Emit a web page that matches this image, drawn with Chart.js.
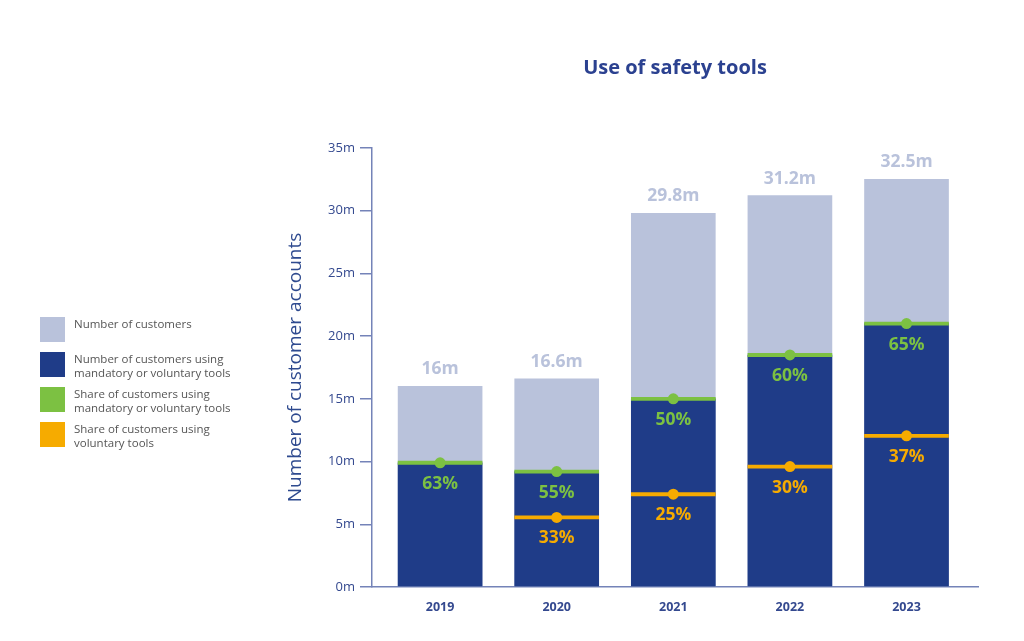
<!DOCTYPE html>
<html>
<head>
<meta charset="utf-8">
<script src="https://cdn.jsdelivr.net/npm/chart.js@4"></script>
<style>
  html, body { margin: 0; padding: 0; background: #fff; }
  #wrap { position: relative; width: 1024px; height: 641px; }
  #legend { position: absolute; left: 40px; top: 317px; font-family: 'Open Sans', sans-serif; font-size: 11.5px; color: #555; }
  .item { position: relative; height: 35px; }
  .sw { position: absolute; left: 0; top: 0; width: 25px; height: 25px; }
  .txt { position: absolute; left: 34px; top: 0; line-height: 13.5px; white-space: nowrap; }
</style>
</head>
<body>
<div id="wrap">
  <canvas id="chart" width="1024" height="641"></canvas>
  <div id="legend"></div>
</div>
<script>
// values, millions of accounts
var years = ['2019', '2020', '2021', '2022', '2023'];
var totalCustomers = [16, 16.6, 29.8, 31.2, 32.5];
var totalLabels = ['16m', '16.6m', '29.8m', '31.2m', '32.5m'];
var usingTools = [9.9, 9.2, 15.0, 18.5, 21.0];
var shareUsing = [63, 55, 50, 60, 65];
var voluntaryUsers = [null, 5.55, 7.4, 9.6, 12.05];
var shareVoluntary = [null, 33, 25, 30, 37];
var yTicks = [0, 5, 10, 15, 20, 25, 30, 35];

var cLight = '#b9c2db', cDark = '#1f3c88', cGreen = '#7cc142', cOrange = '#f6ab00';
var cAxis = '#7483b8', cText = '#34498f';

var legendItems = [
  { color: cLight, text: 'Number of customers' },
  { color: cDark, text: 'Number of customers using<br>mandatory or voluntary tools' },
  { color: cGreen, text: 'Share of customers using<br>mandatory or voluntary tools' },
  { color: cOrange, text: 'Share of customers using<br>voluntary tools' }
];
document.getElementById('legend').innerHTML = legendItems.map(function(it) {
  return '<div class="item"><div class="sw" style="background:' + it.color + '"></div><div class="txt">' + it.text + '</div></div>';
}).join('');

function pts(arr) {
  return arr.map(function(v, i) { return { x: i, y: v }; });
}
function band(arr) {
  return arr.map(function(v, i) { return { x: i, y: v == null ? null : [v - 0.13, v + 0.13] }; });
}

var labelPlugin = {
  id: 'valueLabels',
  afterDatasetsDraw: function(chart) {
    var ctx = chart.ctx, xs = chart.scales.x, ys = chart.scales.y;
    ctx.save();
    ctx.textAlign = 'center';
    ctx.textBaseline = 'middle';
    ctx.font = 'bold 17.5px "Open Sans", sans-serif';
    years.forEach(function(y, i) {
      var px = xs.getPixelForValue(i);
      ctx.fillStyle = cLight;
      ctx.fillText(totalLabels[i], px, ys.getPixelForValue(totalCustomers[i]) - 17);
      ctx.fillStyle = cGreen;
      ctx.fillText(shareUsing[i] + '%', px, ys.getPixelForValue(usingTools[i]) + 21);
      if (voluntaryUsers[i] != null) {
        ctx.fillStyle = cOrange;
        ctx.fillText(shareVoluntary[i] + '%', px, ys.getPixelForValue(voluntaryUsers[i]) + 21);
      }
    });
    ctx.restore();
  }
};

new Chart(document.getElementById('chart'), {
  type: 'bar',
  data: {
    datasets: [
      { type: 'line', data: pts(usingTools), showLine: false, pointRadius: 5.5, pointBackgroundColor: cGreen, pointBorderWidth: 0 },
      { type: 'line', data: pts(voluntaryUsers), showLine: false, pointRadius: 5.5, pointBackgroundColor: cOrange, pointBorderWidth: 0 },
      { data: band(usingTools), backgroundColor: cGreen, barThickness: 84, grouped: false },
      { data: band(voluntaryUsers), backgroundColor: cOrange, barThickness: 84, grouped: false },
      { data: pts(usingTools), backgroundColor: cDark, barThickness: 84, grouped: false },
      { data: pts(totalCustomers), backgroundColor: cLight, barThickness: 84, grouped: false }
    ]
  },
  options: {
    responsive: false,
    animation: false,
    layout: { padding: { left: 280, right: 46, top: 0, bottom: 0 } },
    plugins: {
      legend: { display: false },
      tooltip: { enabled: false },
      title: {
        display: true,
        text: 'Use of safety tools',
        fullSize: false,
        color: '#2b4190',
        font: { family: 'Open Sans', size: 20, weight: 'bold' },
        padding: { top: 56, bottom: 68 }
      }
    },
    scales: {
      x: {
        type: 'linear',
        offset: false,
        min: -0.584,
        max: 4.613,
        afterBuildTicks: function(scale) {
          scale.ticks = years.map(function(y, i) { return { value: i }; });
        },
        afterFit: function(scale) { scale.height = 54; },
        grid: { display: false, drawTicks: false },
        border: { color: cAxis, width: 1.5 },
        ticks: {
          padding: 13,
          color: cText,
          font: { family: 'Open Sans', size: 12.5, weight: 'bold' },
          callback: function(v) { return years[v]; }
        }
      },
      y: {
        min: 0,
        max: 35,
        afterBuildTicks: function(scale) {
          scale.ticks = yTicks.map(function(v) { return { value: v }; });
        },
        afterFit: function(scale) { scale.width = 92; },
        grid: { drawOnChartArea: false, tickLength: 12, color: cAxis, lineWidth: 1.5 },
        border: { color: cAxis, width: 1.5 },
        ticks: {
          padding: 5,
          color: cText,
          font: { family: 'Open Sans', size: 13 },
          callback: function(v) { return v + 'm'; }
        },
        title: {
          display: true,
          text: 'Number of customer accounts',
          color: '#2e4a8f',
          font: { family: 'Open Sans', size: 19 },
          padding: { top: 4, bottom: 0 }
        }
      }
    }
  },
  plugins: [labelPlugin]
});
</script>
</body>
</html>
